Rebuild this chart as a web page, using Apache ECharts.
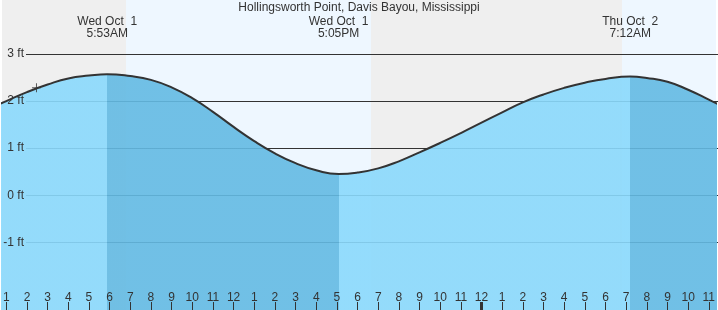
<!DOCTYPE html>
<html><head><meta charset="utf-8">
<script src="https://cdn.jsdelivr.net/npm/echarts@6/dist/echarts.min.js"></script>
<style>html,body{margin:0;padding:0;background:#fff}#c{width:718px;height:310px}</style>
</head><body><div id="c"></div>
<script>
const titleText = 'Hollingsworth Point, Davis Bayou, Mississippi';
// hours since midnight Wed Oct 1
const tideHours = [0,1,2,3,4,5,5.883,7,8,9,10,11,12,13,14,15,16,17.083,18,19,20,21,22,23,24,25,26,27,28,29,30,31.2,32,33,34,35,36];
const tideFeet  = [1.80,2.00,2.19,2.35,2.48,2.54,2.57,2.53,2.45,2.29,2.06,1.77,1.45,1.15,0.89,0.68,0.53,0.45,0.48,0.57,0.72,0.91,1.11,1.32,1.54,1.76,1.97,2.14,2.28,2.39,2.47,2.52,2.49,2.41,2.24,2.03,1.81];
const extremeHours  = [5.883, 17.083, 31.2];
const extremeLabels = ['Wed Oct  1\n5:53AM', 'Wed Oct  1\n5:05PM', 'Thu Oct  2\n7:12AM'];
const fallingRanges = [[5.883, 17.083], [31.2, 40]];
const dayBands   = [[6.8, 18.667], [30.817, 40]];
const nightBands = [[-2, 6.8], [18.667, 30.817]];
const hourTicks  = [1,2,3,4,5,6,7,8,9,10,11,12,13,14,15,16,17,18,19,20,21,22,23,24,25,26,27,28,29,30,31,32,33,34,35];
const hourLabels = ['1','2','3','4','5','6','7','8','9','10','11','12','1','2','3','4','5','6','7','8','9','10','11','12','1','2','3','4','5','6','7','8','9','10','11'];
const midnightTicks = [24];
const ftTicks  = [3, 2, 1, 0, -1];
const ftLabels = ['3 ft', '2 ft', '1 ft', '0 ft', '-1 ft'];
const nowPoint = [2.46, 2.28];

const X_MIN = 0.792, X_MAX = 35.288, X_MIN_LINES = 2.04;
const Y_MIN = -2.438, Y_MAX = 4.146;
const FONT = 'Liberation Sans, Arial, sans-serif';
const TXT = '#333';
const NIGHT = '#efefef', DAY = '#eef7ff';
const LIGHT = 'rgba(138,217,252,0.9)', DARK = 'rgba(99,186,227,0.9)';

const pieces = [];
let prev = null;
fallingRanges.forEach(r => {
  if (prev === null) pieces.push({lt: r[0], color: LIGHT});
  else pieces.push({gte: prev, lt: r[0], color: LIGHT});
  pieces.push({gte: r[0], lt: r[1], color: DARK});
  prev = r[1];
});
pieces.push({gte: prev, color: LIGHT});

const bandData = nightBands.map(b => [b[0], b[1], 0]).concat(dayBands.map(b => [b[0], b[1], 1]));

const hidden = {axisLine: {show: false, onZero: false}, axisTick: {show: false}, axisLabel: {show: false}, splitLine: {show: false}, splitArea: {show: false}};

const chart = echarts.init(document.getElementById('c'), null, {renderer: 'canvas'});
chart.setOption({
  animation: false,
  textStyle: {fontFamily: FONT},
  title: {text: titleText, left: 'center', top: 2, padding: 0,
    textStyle: {fontSize: 12, fontWeight: 'normal', color: TXT, fontFamily: FONT}},
  grid: [
    {left: 0, right: 0, top: 0, bottom: 0, show: false},
    {left: 26, right: 0, top: 0, bottom: 0, show: false}
  ],
  xAxis: [
    {type: 'value', gridIndex: 0, min: X_MIN, max: X_MAX, position: 'bottom', z: 4,
      axisLine: {show: false, onZero: false}, splitLine: {show: false},
      axisTick: {show: true, inside: true, length: 8, customValues: hourTicks, lineStyle: {color: TXT, width: 1}},
      axisLabel: {show: true, inside: true, margin: 6, customValues: hourTicks, fontSize: 12, color: TXT, fontFamily: FONT,
        formatter: v => hourLabels[hourTicks.indexOf(Math.round(v))]}},
    Object.assign({type: 'value', gridIndex: 1, min: X_MIN_LINES, max: X_MAX, show: false}, hidden),
    {type: 'value', gridIndex: 0, min: X_MIN, max: X_MAX, position: 'top', z: 4,
      axisLine: {show: false, onZero: false}, splitLine: {show: false}, axisTick: {show: false},
      axisLabel: {show: true, inside: true, margin: 16, customValues: extremeHours, fontSize: 12, lineHeight: 12, color: TXT, fontFamily: FONT,
        formatter: v => { const i = extremeHours.findIndex(e => Math.abs(e - v) < 1e-6); return i >= 0 ? extremeLabels[i] : ''; }}},
    {type: 'value', gridIndex: 0, min: X_MIN, max: X_MAX, position: 'bottom', z: 4,
      axisLine: {show: false, onZero: false}, splitLine: {show: false}, axisLabel: {show: false},
      axisTick: {show: true, inside: true, length: 8, customValues: midnightTicks, lineStyle: {color: TXT, width: 3}}}
  ],
  yAxis: [
    Object.assign({type: 'value', gridIndex: 0, min: Y_MIN, max: Y_MAX, show: false}, hidden),
    {type: 'value', gridIndex: 1, min: Y_MIN, max: Y_MAX, position: 'left', z: 1,
      axisLine: {show: false, onZero: false},
      axisTick: {show: false, customValues: ftTicks},
      axisLabel: {show: false, customValues: ftTicks},
      splitLine: {show: true, lineStyle: {color: TXT, width: 1}}},
    {type: 'value', gridIndex: 1, min: Y_MIN, max: Y_MAX, position: 'left', z: 4,
      axisLine: {show: false, onZero: false}, splitLine: {show: false},
      axisTick: {show: false, customValues: ftTicks},
      axisLabel: {show: true, margin: 2, customValues: ftTicks, fontSize: 12, color: TXT, fontFamily: FONT,
        formatter: v => { const i = ftTicks.indexOf(Math.round(v)); return i >= 0 ? ftLabels[i] : ''; }}}
  ],
  visualMap: {show: false, type: 'piecewise', seriesIndex: 1, dimension: 0, pieces: pieces},
  series: [
    {type: 'custom', xAxisIndex: 0, yAxisIndex: 0, z: 0, silent: true, clip: true,
      encode: {x: [0, 1]},
      data: bandData,
      renderItem: (params, api) => {
        const p0 = api.coord([api.value(0), Y_MAX]);
        const p1 = api.coord([api.value(1), Y_MIN]);
        const x0 = Math.round(p0[0]), x1 = Math.round(p1[0]);
        return {type: 'rect', shape: {x: x0, y: p0[1], width: x1 - x0, height: p1[1] - p0[1]},
          style: {fill: api.value(2) ? DAY : NIGHT, stroke: null, lineWidth: 0}};
      }},
    {type: 'line', xAxisIndex: 0, yAxisIndex: 0, z: 2, smooth: true, showSymbol: false, silent: true,
      data: tideHours.map((h, i) => [h, tideFeet[i]]),
      lineStyle: {color: '#333', width: 2},
      areaStyle: {opacity: 1, origin: 'start'}},
    {type: 'scatter', xAxisIndex: 0, yAxisIndex: 0, z: 3, silent: true,
      symbol: 'path://M4,0H5V4H9V5H5V9H4V5H0V4H4Z', symbolSize: 9,
      itemStyle: {color: '#333'}, data: [nowPoint]}
  ]
});
</script></body></html>
